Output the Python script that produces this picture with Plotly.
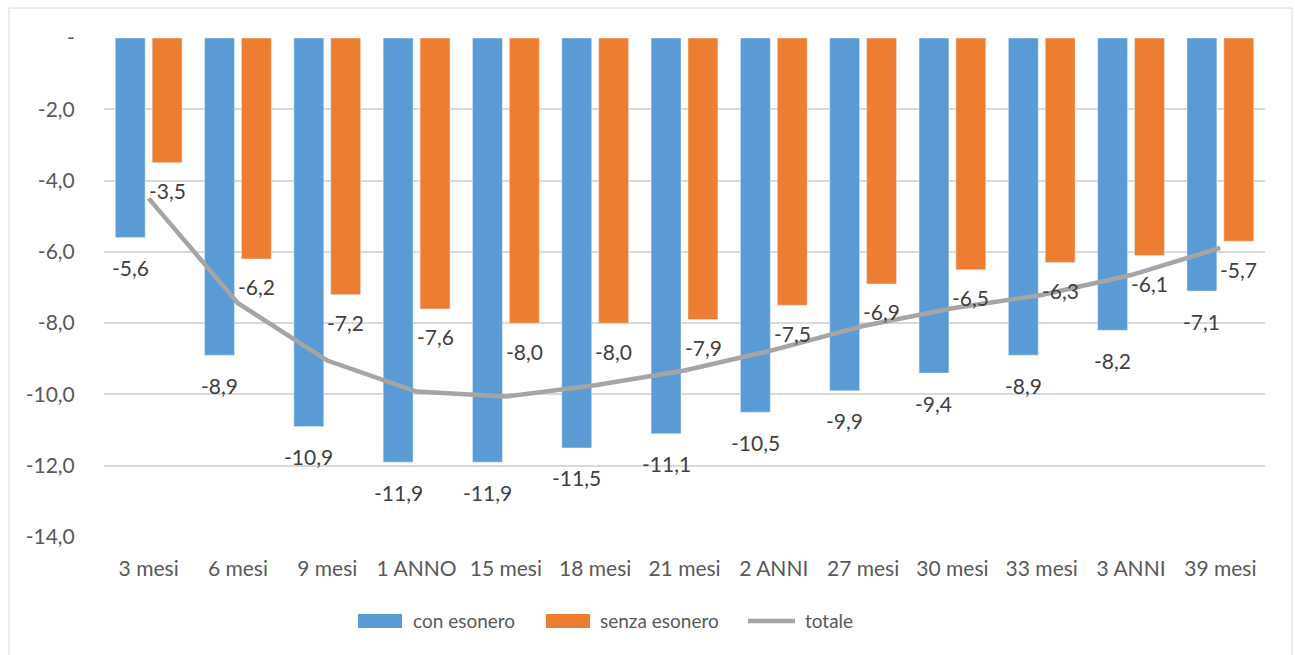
import plotly.graph_objects as go

categories = ["3 mesi", "6 mesi", "9 mesi", "1 ANNO", "15 mesi", "18 mesi", "21 mesi",
              "2 ANNI", "27 mesi", "30 mesi", "33 mesi", "3 ANNI", "39 mesi"]
con_esonero = [-5.6, -8.9, -10.9, -11.9, -11.9, -11.5, -11.1, -10.5, -9.9, -9.4, -8.9, -8.2, -7.1]
senza_esonero = [-3.5, -6.2, -7.2, -7.6, -8.0, -8.0, -7.9, -7.5, -6.9, -6.5, -6.3, -6.1, -5.7]
totale = [-4.50, -7.44, -9.05, -9.92, -10.06, -9.74, -9.33, -8.75, -8.08, -7.58, -7.21, -6.65, -5.89]
y_tickvals = [0, -2, -4, -6, -8, -10, -12, -14]
y_ticktext = ["-", "-2,0", "-4,0", "-6,0", "-8,0", "-10,0", "-12,0", "-14,0"]
series_names = ["con esonero", "senza esonero", "totale"]
series_colors = ["#5B9BD5", "#ED7D31", "#A5A5A5"]

FONT = "Lato"
TXT = "#595959"
LBL = 21

def fmt(v):
    return f"{v:.1f}".replace(".", ",")

fig = go.Figure()
fig.add_trace(go.Bar(x=categories, y=con_esonero, name=series_names[0],
                     marker=dict(color=series_colors[0])))
fig.add_trace(go.Bar(x=categories, y=senza_esonero, name=series_names[1],
                     marker=dict(color=series_colors[1])))
fig.add_trace(go.Scatter(x=categories, y=totale, name=series_names[2], mode="lines",
                         line=dict(color=series_colors[2], width=4.5)))

annotations = []
for c, v in zip(categories, con_esonero):
    annotations.append(dict(x=c, y=v, text=fmt(v), showarrow=False, xshift=-18.5, yshift=-30,
                            font=dict(family=FONT, size=LBL, color="#404040")))
for c, v in zip(categories, senza_esonero):
    annotations.append(dict(x=c, y=v, text=fmt(v), showarrow=False, xshift=18.5, yshift=-28,
                            font=dict(family=FONT, size=LBL, color="#404040")))

# custom legend (paper coordinates)
leg_y = -0.1683
leg_items = [(0.2188, 0.2567, 0.2644), (0.3807, 0.4186, 0.4255), (0.5547, 0.5952, 0.6021)]
shapes = [dict(type="rect", xref="paper", yref="paper", x0=-0.0818, x1=1.0233,
               y0=-0.26, y1=1.06, line=dict(color="#D9D9D9", width=1), layer="below")]
for i, (x0, x1, xt) in enumerate(leg_items):
    if i < 2:
        shapes.append(dict(type="rect", xref="paper", yref="paper", x0=x0, x1=x1,
                           y0=-0.1824, y1=-0.1543, fillcolor=series_colors[i],
                           line=dict(width=0)))
    else:
        shapes.append(dict(type="line", xref="paper", yref="paper", x0=x0, x1=x1,
                           y0=leg_y, y1=leg_y,
                           line=dict(color=series_colors[i], width=4.5)))
    annotations.append(dict(xref="paper", yref="paper", x=xt, y=leg_y, text=series_names[i],
                            showarrow=False, xanchor="left", yanchor="middle",
                            font=dict(family=FONT, size=19, color=TXT)))

fig.update_layout(
    width=1295, height=655,
    margin=dict(l=104, r=30, t=38, b=118),
    paper_bgcolor="white", plot_bgcolor="white",
    barmode="group", bargap=0.174, bargroupgap=0.19,
    font=dict(family=FONT, size=21, color=TXT),
    annotations=annotations,
    showlegend=False,
    shapes=shapes,
)
fig.update_xaxes(showgrid=False, showline=False, ticks="", ticklabelstandoff=17,
                 tickfont=dict(family=FONT, size=21, color=TXT))
fig.update_yaxes(range=[-14, 0], tickvals=y_tickvals, ticktext=y_ticktext,
                 showgrid=True, gridcolor="#D9D9D9", gridwidth=1.5, zeroline=False,
                 ticks="outside", ticklen=24, tickcolor="rgba(0,0,0,0)",
                 tickfont=dict(family=FONT, size=21, color=TXT))

fig.write_html("out.html")
